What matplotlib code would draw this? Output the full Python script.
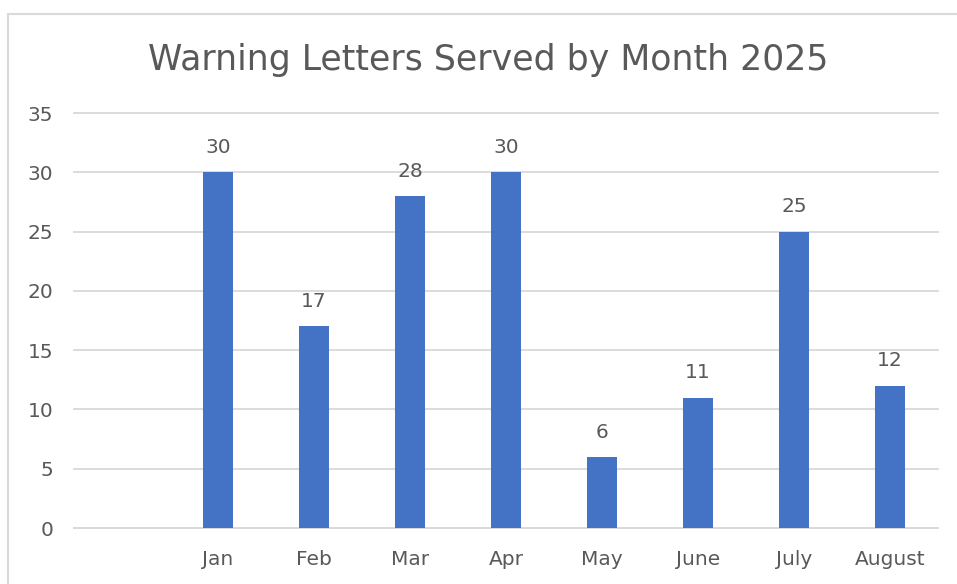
import matplotlib
matplotlib.use("Agg")
import matplotlib.pyplot as plt
from matplotlib.patches import Rectangle

# Monthly counts; the leading blank category leaves an empty slot before Jan
months = ["", "Jan", "Feb", "Mar", "Apr", "May", "June", "July", "August"]
letters = [None, 30, 17, 28, 30, 6, 11, 25, 12]
y_ticks = [0, 5, 10, 15, 20, 25, 30, 35]

TEXT = "#595959"
GRID = "#d9d9d9"
BAR = "#4472c4"

plt.rcParams["font.family"] = ["DejaVu Sans"]

fig = plt.figure(figsize=(9.57, 5.84), dpi=100)
fig.patches.append(Rectangle((8 / 957, -0.1), 1.1, (584 - 14) / 584 + 0.1,
                             transform=fig.transFigure, fill=False,
                             edgecolor=GRID, linewidth=1.5))

ax = fig.add_axes([74 / 957, 56 / 584, 864 / 957, 415 / 584])

xs = list(range(len(months)))
vals = [v if v is not None else 0 for v in letters]
bars = ax.bar(xs, vals, width=0.31, color=BAR, zorder=3)

for x, v in zip(xs, letters):
    if v is None:
        continue
    ax.annotate(str(v), (x, v), xytext=(0, 11), textcoords="offset points",
                ha="center", va="bottom", fontsize=14.5, color=TEXT)

ax.set_xlim(-0.5, len(months) - 0.5)
ax.set_ylim(0, 35)
ax.set_yticks(y_ticks)
ax.set_xticks(xs)
ax.set_xticklabels(months)
ax.tick_params(axis="both", length=0, labelsize=14.5, labelcolor=TEXT)
ax.tick_params(axis="x", pad=16)
ax.tick_params(axis="y", pad=15)

ax.yaxis.grid(True, color=GRID, linewidth=1.3, zorder=0)
for gl in ax.get_ygridlines():
    gl.set_clip_on(False)
for side in ["top", "right", "left"]:
    ax.spines[side].set_visible(False)
ax.spines["bottom"].set_color(GRID)
ax.spines["bottom"].set_linewidth(1.3)

fig.text(488 / 957, 1 - 60 / 584, "Warning Letters Served by Month 2025",
         ha="center", va="center", fontsize=25, color=TEXT)

fig.savefig("out.png", dpi=100)
